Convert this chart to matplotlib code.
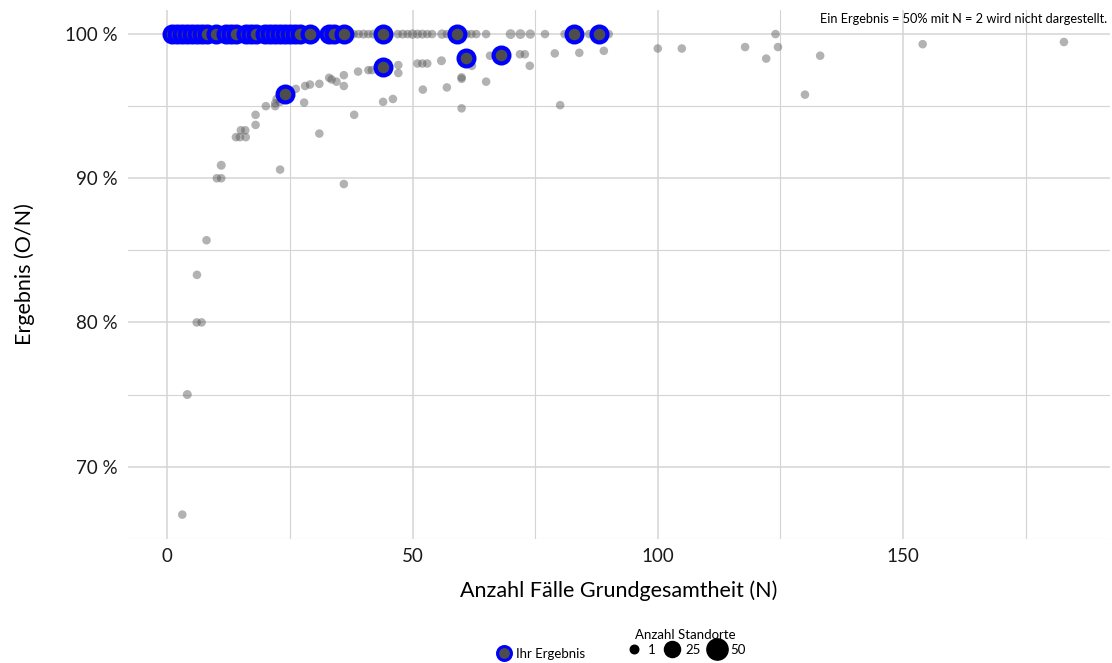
import matplotlib
matplotlib.use("Agg")
import matplotlib.pyplot as plt
from matplotlib.lines import Line2D
from matplotlib.ticker import FuncFormatter, MultipleLocator

plt.rcParams['font.family'] = ['Lato', 'DejaVu Sans']

# Ihr Ergebnis (blau umrandet)
own_n = [1, 2, 3, 4, 5, 6, 7, 8, 10, 12, 13, 14, 16, 17, 18, 20, 21, 22, 23, 24,
         25, 26, 27, 29, 33, 34, 36, 44, 59, 83, 88, 24, 44, 61, 68]
own_pct = [100] * 31 + [95.83, 97.73, 98.36, 98.53]

# alle Standorte mit 100 %
full_n = [1, 2, 3, 4, 5, 6, 7, 8, 9, 10, 11, 12, 13, 14, 15, 16, 17, 18, 19, 20,
          21, 22, 23, 24, 25, 26, 27, 28, 29, 30, 31, 32, 38, 39, 40, 41, 42, 43,
          45, 47, 48, 49, 50, 51, 52, 53, 54, 56, 57, 58, 61, 62, 63, 65, 70, 72,
          74, 77, 81, 86, 90, 124]
full_cnt = [3, 3, 3, 3, 3, 3, 3, 3, 2, 3, 2, 3, 3, 3, 2, 3, 3, 3, 2, 3,
            3, 3, 2, 3, 3, 3, 3, 2, 3, 2, 2, 2, 1, 1, 2, 1, 2, 1,
            1, 1, 2, 1, 3, 2, 2, 1, 1, 3, 1, 2, 1, 1, 1, 1, 4, 4,
            3, 1, 1, 1, 1, 1]

# alle Standorte unter 100 %
rest_n = [3.06, 4.08, 6.0, 7.0, 6.05, 8.0, 10.1, 11.0, 11.0, 23.0,
          14.0, 14.8, 16.0, 15.0, 15.9, 18.0, 18.0, 20.1, 22.0, 22.0,
          22.3, 23.0, 26.2, 27.9, 28.1, 29.1, 31.0, 31.0, 33.0, 33.5,
          34.5, 36.0, 36.0, 36.0, 38.1, 38.9, 41.0, 41.7, 44.0, 46.0,
          47.1, 47.1, 51.0, 52.0, 53.0, 52.1, 55.9, 57.0, 60.0, 60.0,
          60.0, 62.1, 65.0, 65.8, 71.9, 72.9, 73.9, 79.0, 80.1, 84.0,
          89.0, 100.0, 104.9, 117.8, 124.5, 122.1, 130.0, 133.1, 154.0, 182.8]
rest_pct = [66.67, 75.0, 80.0, 80.0, 83.3, 85.7, 90.0, 90.0, 90.9, 90.6,
            92.85, 92.85, 92.85, 93.33, 93.33, 93.7, 94.4, 95.0, 95.0, 95.2,
            95.5, 95.3, 96.2, 95.25, 96.4, 96.5, 96.55, 93.1, 96.97, 96.85,
            96.7, 97.15, 96.4, 89.6, 94.4, 97.4, 97.5, 97.5, 95.3, 95.5,
            97.85, 97.3, 97.96, 97.96, 97.96, 96.15, 98.15, 96.3, 97.0, 94.85,
            96.9, 97.8, 96.7, 98.5, 98.6, 98.6, 97.8, 98.66, 95.07, 98.7,
            98.84, 99.0, 99.0, 99.1, 99.1, 98.3, 95.8, 98.5, 99.3, 99.45]
rest_cnt = [1, 2, 1, 1, 1, 1, 1, 1, 2, 1,
            1, 1, 1, 1, 1, 1, 1, 1, 1, 1,
            1, 1, 1, 1, 1, 1, 1, 1, 1, 1,
            1, 1, 1, 1, 1, 1, 1, 1, 1, 1,
            1, 1, 1, 1, 1, 1, 2, 1, 1, 1,
            1, 1, 1, 1, 1, 1, 1, 1, 1, 1,
            1, 1, 1, 1, 1, 1, 1, 1, 1, 1]

legend_counts = [1, 25, 50]

GRAY = '#555555'
OWN_FACE = '#4d4d4d'
OWN_EDGE = '#0000ff'
GRID = '#d4d4d4'


def size_of(cnt):
    return 34 + 4.0 * cnt


fig = plt.figure(figsize=(11.12, 6.63), dpi=100)
ax = fig.add_axes([0.1147, 0.1875, 0.8831, 0.7974])

ax.scatter(full_n, [100] * len(full_n), s=[size_of(c) for c in full_cnt],
           color=GRAY, alpha=0.45, linewidths=0, zorder=2)
ax.scatter(rest_n, rest_pct, s=[size_of(c) for c in rest_cnt],
           color=GRAY, alpha=0.45, linewidths=0, zorder=2)
ax.scatter(own_n, own_pct, s=130, facecolor=OWN_FACE, edgecolor=OWN_EDGE,
           linewidths=3, zorder=3)

ax.set_xlim(-8.1, 192.1)
ax.set_ylim(65.0, 101.67)
ax.xaxis.set_major_locator(MultipleLocator(50))
ax.xaxis.set_minor_locator(MultipleLocator(25))
ax.yaxis.set_major_locator(MultipleLocator(10))
ax.yaxis.set_minor_locator(MultipleLocator(5))
ax.yaxis.set_major_formatter(FuncFormatter(lambda v, p: f"{v:.0f} %"))

ax.grid(True, which='major', color=GRID, linewidth=1.1, zorder=0)
ax.grid(True, which='minor', color=GRID, linewidth=0.8, zorder=0)
ax.set_axisbelow(True)
for sp in ax.spines.values():
    sp.set_visible(False)
ax.tick_params(which='both', length=0, labelsize=13.5, colors='#1a1a1a', pad=7)

ax.set_xlabel("Anzahl Fälle Grundgesamtheit (N)", fontsize=15.5, labelpad=11)
ax.set_ylabel("Ergebnis (O/N)", fontsize=15.5, labelpad=22)

fig.text(0.9955, 0.972, "Ein Ergebnis = 50% mit N = 2 wird nicht dargestellt.",
         ha='right', va='center', fontsize=9.2)

# Legenden unten
own_handle = Line2D([], [], ls='', marker='o', markersize=10,
                    markerfacecolor=OWN_FACE, markeredgecolor=OWN_EDGE,
                    markeredgewidth=2.2)
leg1 = fig.legend([own_handle], ["Ihr Ergebnis"], loc='center left',
                  bbox_to_anchor=(0.441, 0.0136), frameon=False, fontsize=9.5,
                  handletextpad=0.35, borderpad=0, handlelength=1.1)

size_handles = [Line2D([], [], ls='', marker='o', color='black',
                       markersize=size_of(c) ** 0.5) for c in legend_counts]
leg2 = fig.legend(size_handles, [str(c) for c in legend_counts], loc='lower center',
                  bbox_to_anchor=(0.616, -0.001), frameon=False, fontsize=9.5,
                  ncol=3, title="Anzahl Standorte", title_fontsize=9.5,
                  handletextpad=0.3, columnspacing=0.45, borderpad=0.1,
                  handlelength=1.5, labelspacing=0.2)

fig.savefig("out.png", dpi=100)
